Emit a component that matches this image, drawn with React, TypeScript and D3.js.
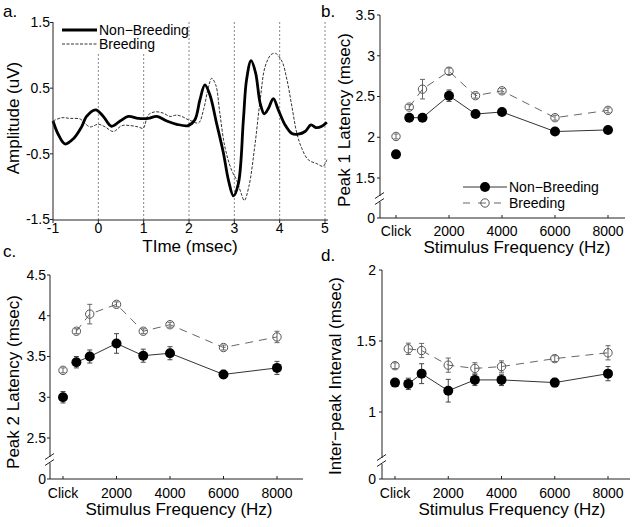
import React from "react";
import * as d3 from "d3";

// ---------- Panel a: waveforms ----------
const nbTime = [-1, -0.88, -0.735, -0.55, -0.37, -0.26, -0.06, 0.11, 0.29, 0.48, 0.66, 0.88, 1.1, 1.29, 1.51, 1.73, 1.98, 2.13, 2.24, 2.35, 2.46, 2.61, 2.76, 2.87, 2.98, 3.09, 3.2, 3.27, 3.37, 3.47, 3.57, 3.66, 3.75, 3.86, 3.97, 4.12, 4.27, 4.41, 4.56, 4.69, 4.8, 4.93, 5.04];
const nbAmp = [0, -0.21, -0.35, -0.27, -0.09, 0.07, 0.17, 0.07, -0.08, 0.0, 0.07, 0.04, 0.04, 0.07, 0.0, -0.05, -0.07, 0.02, 0.32, 0.55, 0.4, -0.04, -0.49, -0.9, -1.14, -0.95, 0.02, 0.63, 0.92, 0.73, 0.27, 0.11, 0.19, 0.34, 0.17, -0.06, -0.19, -0.2, -0.16, -0.06, -0.1, -0.08, -0.02];
const brTime = [-1, -0.81, -0.63, -0.4, -0.29, -0.18, 0.0, 0.15, 0.33, 0.52, 0.7, 0.88, 0.99, 1.1, 1.25, 1.43, 1.58, 1.73, 1.87, 1.98, 2.06, 2.21, 2.32, 2.43, 2.5, 2.59, 2.68, 2.79, 2.94, 3.05, 3.15, 3.22, 3.32, 3.45, 3.57, 3.68, 3.81, 3.91, 4.05, 4.16, 4.27, 4.38, 4.49, 4.63, 4.82, 4.96, 5.04];
const brAmp = [0, 0.05, 0.04, 0.03, -0.04, -0.09, -0.05, -0.09, -0.16, -0.07, -0.07, -0.09, -0.11, 0.09, 0.14, 0.12, 0.07, 0.09, 0.06, 0.02, 0, -0.03, 0.17, 0.52, 0.65, 0.55, 0.12, -0.39, -0.75, -0.9, -1.1, -1.21, -1.0, -0.39, 0.32, 0.83, 1.01, 1.03, 0.91, 0.63, 0.22, -0.19, -0.42, -0.59, -0.65, -0.69, -0.59];
const aXTicks = [-1, 0, 1, 2, 3, 4, 5];
const aYTicks = [-1.5, -0.5, 0.5, 1.5];
const aGrid = [0, 1, 2, 3, 4, 5];

// ---------- Panels b-d: latency data ----------
const freqs = [0, 500, 1000, 2000, 3000, 4000, 6000, 8000]; // 0 = Click
const freqTickVals = [0, 2000, 4000, 6000, 8000];
const freqTickLabels = ["Click", "2000", "4000", "6000", "8000"];

const peak1NB = [1.79, 2.24, 2.24, 2.51, 2.285, 2.31, 2.07, 2.09];
const peak1NBerr = [0.03, 0.04, 0.03, 0.07, 0.03, 0.03, 0.02, 0.03];
const peak1B = [2.01, 2.37, 2.59, 2.81, 2.51, 2.57, 2.24, 2.33];
const peak1Berr = [0.03, 0.03, 0.12, 0.04, 0.03, 0.03, 0.03, 0.03];

const peak2NB = [3.0, 3.43, 3.5, 3.66, 3.51, 3.54, 3.28, 3.36];
const peak2NBerr = [0.07, 0.07, 0.08, 0.12, 0.08, 0.08, 0.05, 0.08];
const peak2B = [3.33, 3.81, 4.02, 4.14, 3.81, 3.89, 3.61, 3.74];
const peak2Berr = [0.03, 0.03, 0.12, 0.03, 0.03, 0.03, 0.03, 0.07];

const ipiNB = [1.207, 1.198, 1.27, 1.15, 1.226, 1.226, 1.207, 1.27];
const ipiNBerr = [0.02, 0.04, 0.07, 0.08, 0.04, 0.04, 0.03, 0.05];
const ipiB = [1.326, 1.445, 1.433, 1.33, 1.307, 1.32, 1.376, 1.417];
const ipiBerr = [0.02, 0.04, 0.05, 0.05, 0.04, 0.04, 0.02, 0.05];

const bYTicks = [0, 1.5, 2, 2.5, 3, 3.5];
const cYTicks = [0, 2.5, 3, 3.5, 4, 4.5];
const dYTicks = [0, 1, 1.5, 2];

const FONT = "'Liberation Sans', Arial, Helvetica, sans-serif";
const AX = "#222";

function WavePanel() {
  const x = d3.scaleLinear().domain([-1, 5]).range([53, 325]);
  const y = d3.scaleLinear().domain([-1.5, 1.5]).range([219.5, 22.5]);
  const mk = (ts: number[], vs: number[]) =>
    d3
      .line<number>()
      .x((t) => x(t))
      .y((_, i) => y(vs[i]))
      .curve(d3.curveCatmullRom.alpha(0.5))(ts) || "";
  const x0 = 53;
  const yb = 220;
  return (
    <g>
      {aGrid.map((t) => (
        <line key={t} x1={x(t)} x2={x(t)} y1={22} y2={yb} stroke="#888" strokeWidth={1} strokeDasharray="2,2" />
      ))}
      <rect x={58} y={22} width={128} height={32} fill="#fff" />
      <path d={mk(brTime, brAmp)} fill="none" stroke="#333" strokeWidth={1} strokeDasharray="3,1.5" />
      <path d={mk(nbTime, nbAmp)} fill="none" stroke="#000" strokeWidth={2.8} />
      <line x1={x0} x2={x0} y1={22} y2={yb} stroke={AX} strokeWidth={1} />
      <line x1={x0} x2={328} y1={yb} y2={yb} stroke={AX} strokeWidth={1} />
      {aYTicks.map((v) => (
        <g key={v}>
          <line x1={x0 - 3} x2={x0} y1={y(v)} y2={y(v)} stroke={AX} />
          <text x={50} y={y(v)} dy="0.35em" textAnchor="end" fontSize={14}>
            {String(v)}
          </text>
        </g>
      ))}
      {aXTicks.map((v) => (
        <g key={v}>
          <line x1={x(v)} x2={x(v)} y1={yb} y2={yb + 3} stroke={AX} />
          <text x={x(v)} y={233} textAnchor="middle" fontSize={14}>
            {String(v)}
          </text>
        </g>
      ))}
      <text x={190} y={252} textAnchor="middle" fontSize={17}>
        TIme (msec)
      </text>
      <text transform="translate(19,118) rotate(-90)" textAnchor="middle" fontSize={17}>
        Amplitude (uV)
      </text>
      <line x1={62} x2={97} y1={30} y2={30} stroke="#000" strokeWidth={2.8} />
      <text x={99} y={35} fontSize={14}>Non−Breeding</text>
      <line x1={62} x2={97} y1={44} y2={44} stroke="#333" strokeWidth={1} strokeDasharray="3,1.5" />
      <text x={99} y={49} fontSize={14}>Breeding</text>
    </g>
  );
}

type LatProps = {
  axisX: number;
  axisRight: number;
  xClick: number;
  x8000: number;
  yDomain: number[];
  yRange: number[];
  yTicks: number[];
  breakY: number;
  nb: number[];
  nbErr: number[];
  br: number[];
  brErr: number[];
  tickLabelY: number;
  labelY: number;
  labelX: number;
  yLabel: string;
  yLabelX: number;
  yLabelY: number;
  yTickRight: number;
  legend?: boolean;
};

function LatPanel(p: LatProps) {
  const x = d3.scaleLinear().domain([0, 8000]).range([p.xClick, p.x8000]);
  const y = d3.scaleLinear().domain(p.yDomain).range(p.yRange);
  const yBottom = p.yRange[0];
  const yTop = p.yRange[p.yRange.length - 1];
  const idx = freqs.map((_, i) => i).slice(1); // Click not connected
  const lineGen = (vals: number[]) =>
    d3
      .line<number>()
      .x((i) => x(freqs[i]))
      .y((i) => y(vals[i]))(idx) || "";
  const ax = p.axisX;
  const bY = p.breakY;
  const errBars = (vals: number[], errs: number[], color: string) =>
    freqs.map((f, i) => {
      const cx = x(f);
      const y1 = y(vals[i] + errs[i]);
      const y2 = y(vals[i] - errs[i]);
      return (
        <g key={i} stroke={color} strokeWidth={1}>
          <line x1={cx} x2={cx} y1={y1} y2={y2} />
          <line x1={cx - 2.5} x2={cx + 2.5} y1={y1} y2={y1} />
          <line x1={cx - 2.5} x2={cx + 2.5} y1={y2} y2={y2} />
        </g>
      );
    });
  return (
    <g>
      <line x1={ax} x2={ax} y1={yTop} y2={bY - 3} stroke={AX} />
      <line x1={ax} x2={ax} y1={bY + 3} y2={yBottom} stroke={AX} />
      <line x1={ax - 5} x2={ax + 4} y1={bY - 0.5} y2={bY - 6.5} stroke={AX} />
      <line x1={ax - 5} x2={ax + 4} y1={bY + 5.5} y2={bY - 0.5} stroke={AX} />
      <line x1={ax} x2={p.axisRight} y1={yBottom} y2={yBottom} stroke={AX} />
      {p.yTicks.map((v) => (
        <g key={v}>
          <line x1={ax - 3} x2={ax} y1={y(v)} y2={y(v)} stroke={AX} />
          <text x={p.yTickRight} y={y(v)} dy="0.35em" textAnchor="end" fontSize={14}>
            {String(v)}
          </text>
        </g>
      ))}
      {freqTickVals.map((v, i) => (
        <g key={v}>
          <line x1={x(v)} x2={x(v)} y1={yBottom} y2={yBottom - 3} stroke={AX} />
          <text x={x(v)} y={p.tickLabelY} textAnchor="middle" fontSize={14}>
            {freqTickLabels[i]}
          </text>
        </g>
      ))}
      <text x={p.labelX} y={p.labelY} textAnchor="middle" fontSize={17}>
        Stimulus Frequency (Hz)
      </text>
      <text transform={`translate(${p.yLabelX},${p.yLabelY}) rotate(-90)`} textAnchor="middle" fontSize={17}>
        {p.yLabel}
      </text>
      <path d={lineGen(p.br)} fill="none" stroke="#666" strokeWidth={1} strokeDasharray="8,6" />
      <path d={lineGen(p.nb)} fill="none" stroke="#333" strokeWidth={1} />
      {errBars(p.br, p.brErr, "#666")}
      {errBars(p.nb, p.nbErr, "#444")}
      {freqs.map((f, i) => (
        <circle key={"b" + i} cx={x(f)} cy={y(p.br[i])} r={4.2} fill="none" stroke="#555" strokeWidth={1} />
      ))}
      {freqs.map((f, i) => (
        <circle key={"n" + i} cx={x(f)} cy={y(p.nb[i])} r={5} fill="#000" />
      ))}
      {p.legend && (
        <g>
          <line x1={463} x2={507} y1={187} y2={187} stroke="#333" strokeWidth={1} />
          <circle cx={485} cy={187} r={5} fill="#000" />
          <text x={509} y={192} fontSize={14}>Non−Breeding</text>
          <line x1={463} x2={507} y1={203} y2={203} stroke="#666" strokeWidth={1} strokeDasharray="7,8,8,8,7,100" />
          <circle cx={485} cy={203} r={4.2} fill="none" stroke="#555" strokeWidth={1} />
          <text x={509} y={208} fontSize={14}>Breeding</text>
        </g>
      )}
    </g>
  );
}

export default function App() {
  return (
    <svg
      width={635}
      height={527}
      style={{ position: "absolute", left: 0, top: 0, background: "#fff" }}
      fontFamily={FONT}
    >
      <rect x={0} y={0} width={635} height={527} fill="#fff" />
      <text x={3} y={17} fontSize={17}>a.</text>
      <text x={321} y={17} fontSize={17}>b.</text>
      <text x={3} y={257} fontSize={17}>c.</text>
      <text x={321} y={261} fontSize={17}>d.</text>
      <WavePanel />
      <LatPanel
        axisX={380}
        axisRight={625}
        xClick={396}
        x8000={608}
        yDomain={[0, 1.5, 3.5]}
        yRange={[218, 178, 15]}
        yTicks={bYTicks}
        breakY={199}
        nb={peak1NB}
        nbErr={peak1NBerr}
        br={peak1B}
        brErr={peak1Berr}
        tickLabelY={236}
        labelX={517}
        labelY={253}
        yLabel="Peak 1 Latency (msec)"
        yLabelX={350}
        yLabelY={120}
        yTickRight={375}
        legend
      />
      <LatPanel
        axisX={50}
        axisRight={303}
        xClick={63}
        x8000={277}
        yDomain={[0, 2.5, 4.5]}
        yRange={[479, 438, 275]}
        yTicks={cYTicks}
        breakY={460}
        nb={peak2NB}
        nbErr={peak2NBerr}
        br={peak2B}
        brErr={peak2Berr}
        tickLabelY={498}
        labelX={179}
        labelY={515}
        yLabel="Peak 2 Latency (msec)"
        yLabelX={19}
        yLabelY={382}
        yTickRight={46}
      />
      <LatPanel
        axisX={382}
        axisRight={630}
        xClick={395}
        x8000={608}
        yDomain={[0, 1, 2]}
        yRange={[479, 412, 270]}
        yTicks={dYTicks}
        breakY={461}
        nb={ipiNB}
        nbErr={ipiNBerr}
        br={ipiB}
        brErr={ipiBerr}
        tickLabelY={498}
        labelX={512}
        labelY={515}
        yLabel="Inter−peak Interval (msec)"
        yLabelX={341}
        yLabelY={376}
        yTickRight={376}
      />
    </svg>
  );
}
